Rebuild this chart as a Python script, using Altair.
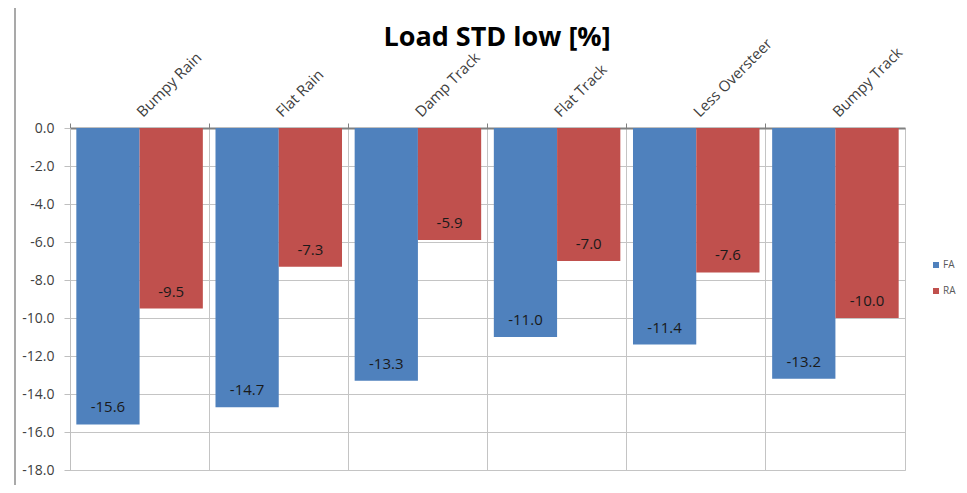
import altair as alt
import pandas as pd

categories = ["Bumpy Rain", "Flat Rain", "Damp Track", "Flat Track", "Less Oversteer", "Bumpy Track"]
fa_values = [-15.6, -14.7, -13.3, -11.0, -11.4, -13.2]
ra_values = [-9.5, -7.3, -5.9, -7.0, -7.6, -10.0]
series = ["FA", "RA"]
colors = ["#4f81bd", "#c0504d"]
y_ticks = [-18, -16, -14, -12, -10, -8, -6, -4, -2, 0]

rows = []
for c, fa, ra in zip(categories, fa_values, ra_values):
    rows.append({"cat": c, "series": "FA", "value": fa, "lbl": f"{fa:.1f}"})
    rows.append({"cat": c, "series": "RA", "value": ra, "lbl": f"{ra:.1f}"})
df = pd.DataFrame(rows)

W, H = 835, 342
FONT = "Open Sans"

x = alt.X("cat:N", sort=categories, title=None,
          scale=alt.Scale(paddingInner=0, paddingOuter=0),
          axis=alt.Axis(orient="top", labelAngle=-45, labelAlign="left", labelBaseline="middle",
                        labelFontSize=15, labelColor="#404040", labelFont=FONT,
                        bandPosition=0,
                        labelPadding=9, ticks=True, tickSize=5, tickColor="#808080",
                        domain=True, domainColor="#808080", domainWidth=2,
                        grid=True, gridColor="#c4c4c4"))
y = alt.Y("value:Q", title=None,
          scale=alt.Scale(domain=[-18, 0], nice=False),
          axis=alt.Axis(values=y_ticks, tickCount=20,
                        labelExpr="replace(format(datum.value, '.1f'), '\u2212', '-')",
                        labelOverlap=False, labelFontSize=14,
                        labelColor="#404040", labelFont=FONT, tickSize=6, labelPadding=10,
                        tickColor="#bfbfbf", domainColor="#bfbfbf", gridColor="#c4c4c4"))
xo = alt.XOffset("series:N", sort=series, scale=alt.Scale(paddingInner=0, paddingOuter=0.1))

base = alt.Chart(df)
bars = base.mark_bar().encode(
    x=x, y=y, xOffset=xo,
    color=alt.Color("series:N", sort=series, scale=alt.Scale(domain=series, range=colors),
                    legend=alt.Legend(title=None, orient="none", legendX=861, legendY=132,
                                      symbolType="square", symbolSize=36, labelFontSize=10,
                                      labelColor="#595959", labelFont=FONT, rowPadding=16,
                                      labelOffset=2, symbolStrokeWidth=0)),
)
labels = base.mark_text(fontSize=15, font=FONT, color="#1a1a1a", dy=-17).encode(
    x=x, y=y, xOffset=xo, text="lbl:N"
)
title = alt.Chart(pd.DataFrame({"t": ["Load STD low [%]"]})).mark_text(
    fontSize=27, fontWeight="bold", font=FONT, color="#000000"
).encode(text="t:N", x=alt.value(427), y=alt.value(-90))
frame = alt.Chart(pd.DataFrame({"t": [0]})).mark_rule(color="#8c8c8c", strokeWidth=1.5).encode(
    x=alt.value(-55), y=alt.value(-140), y2=alt.value(380))

chart = alt.layer(bars, labels, title, frame).properties(
    width=W, height=H,
    autosize=alt.AutoSizeParams(type="none"),
    padding={"left": 62, "top": 120, "right": 54, "bottom": 15},
).configure_view(stroke="#c4c4c4")

chart.save("out.html", embed_options={"renderer": "svg", "actions": False})
